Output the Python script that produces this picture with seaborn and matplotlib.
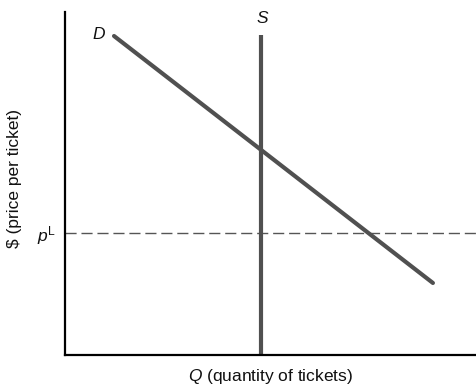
import numpy as np
import pandas as pd
import matplotlib.pyplot as plt
import seaborn as sns

# curve end points (arbitrary units, axes run 0-100)
demand_q = [11.9, 89.3]
demand_p = [93.0, 21.0]
supply_q = [47.6, 47.6]
supply_p = [0.0, 93.3]
price_low = 35.6

sns.set_style("white")
plt.rcParams.update({
    "font.family": ["Liberation Sans", "DejaVu Sans"],
    "font.size": 10,
    "text.color": "#111111",
    "axes.labelcolor": "#111111",
    "ytick.color": "#111111",
    "mathtext.fontset": "custom",
    "mathtext.rm": "Liberation Sans",
    "mathtext.it": "Liberation Sans:italic",
})

LINE = "#505050"

fig = plt.figure(figsize=(4.77, 3.86), dpi=100)
ax = fig.add_axes([65 / 477, 31 / 386, 412 / 477, 343 / 386])

demand = pd.DataFrame({"q": demand_q, "p": demand_p})
supply = pd.DataFrame({"q": supply_q, "p": supply_p})

ax.axhline(price_low, color="#555555", lw=1.0, ls=(0, (8, 3.5)), zorder=1)
sns.lineplot(data=demand, x="q", y="p", ax=ax, color=LINE, lw=3.0,
             solid_capstyle="round", sort=False, estimator=None)
sns.lineplot(data=supply, x="q", y="p", ax=ax, color=LINE, lw=3.0,
             solid_capstyle="butt", sort=False, estimator=None)

ax.text(demand_q[0] - 2.3, demand_p[0] + 0.3, "D", fontstyle="italic",
        fontsize=12.5, ha="right", va="center")
ax.text(supply_q[0] + 0.2, supply_p[1] + 2.6, "S", fontstyle="italic",
        fontsize=12.5, ha="center", va="bottom")

ax.set_xlim(0, 100)
ax.set_ylim(0, 100)
ax.set_xticks([])
ax.set_yticks([price_low])
ax.set_yticklabels([r"$\mathit{p}^{\mathrm{L}}$"], fontsize=12.5)
ax.tick_params(axis="y", length=2.5, width=1.0, pad=4, color="#333333")

ax.set_xlabel(r"$\mathit{Q}$ (quantity of tickets)", fontsize=12.5)
ax.set_ylabel(r"\$ (price per ticket)", fontsize=12.5)
ax.xaxis.set_label_coords(0.5, -0.035, transform=ax.transAxes)
ax.xaxis.label.set_va("top")
ax.yaxis.set_label_coords(15 / 477, 208 / 386, transform=fig.transFigure)
ax.yaxis.label.set_va("center")

for side in ["top", "right"]:
    ax.spines[side].set_visible(False)
for side in ["left", "bottom"]:
    ax.spines[side].set_color("black")
    ax.spines[side].set_linewidth(1.6)

fig.savefig("out.png", dpi=100)
